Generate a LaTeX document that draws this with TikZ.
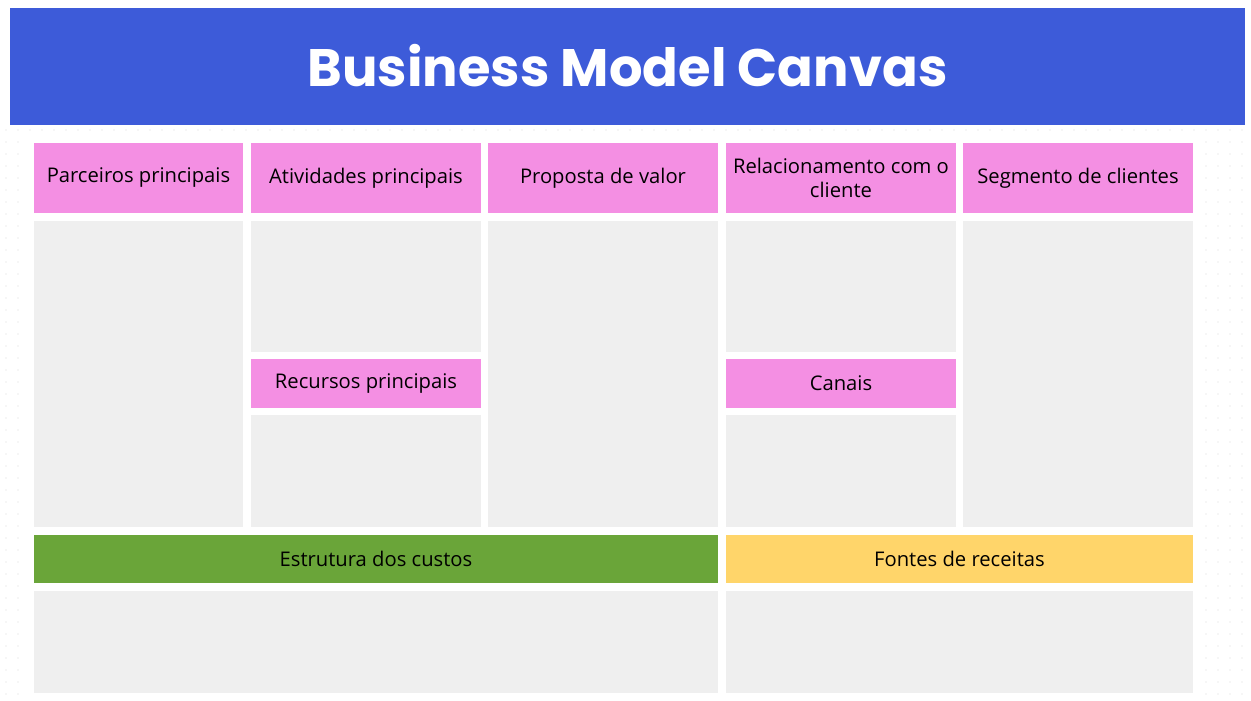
\documentclass[tikz,border=0pt]{standalone}
\usepackage{fontspec}
\setmainfont{Open Sans}
\newfontfamily\titlefont{Poppins Bold}
\usetikzlibrary{positioning}
\definecolor{bmcblue}{HTML}{3D5BD9}
\definecolor{bmcpink}{HTML}{F48FE3}
\definecolor{bmcgrey}{HTML}{EFEFEF}
\definecolor{bmcgreen}{HTML}{6AA539}
\definecolor{bmcyellow}{HTML}{FFD56A}
\definecolor{bmcdot}{HTML}{DCDCDC}
\tikzset{
  head/.style={fill=bmcpink, inner sep=0pt, font=\fontsize{11.5}{14}\selectfont, align=center},
  body/.style={fill=bmcgrey},
}
\begin{document}
\begin{tikzpicture}[x=0.02cm, y=-0.02cm]
    \useasboundingbox (0,0) rectangle (1251,700);
    \fill[white] (0,0) rectangle (1251,700);
    % dotted board
    \foreach \i in {0,...,104}
      \foreach \j in {0,...,48}
        \fill[bmcdot] (6+12*\i, 130+12*\j) circle (0.6);
    \fill[white] (28,136) rectangle (1200,700);

    % title bar
    \fill[bmcblue] (10,8) rectangle (1245,125);
    \node[white, font=\titlefont\fontsize{30}{36}\selectfont] (title) at (627.5,66) {Business Model Canvas};

    % grey bodies
    \fill[body] (34,221) rectangle (243,527);
    \fill[body] (251,221) rectangle (481,352);
    \fill[body] (251,415) rectangle (481,527);
    \fill[body] (488,221) rectangle (718,527);
    \fill[body] (726,221) rectangle (956,352);
    \fill[body] (726,415) rectangle (956,527);
    \fill[body] (963,221) rectangle (1193,527);
    \fill[body] (34,591) rectangle (718,693);
    \fill[body] (726,591) rectangle (1193,693);

    % headers
    \node[head, minimum width=209*0.02cm, minimum height=70*0.02cm] (partners) at (138.5,178) {Parceiros principais};
    \node[head, minimum width=230*0.02cm, minimum height=70*0.02cm] (activities) at (366,178) {Atividades principais};
    \node[head, minimum width=230*0.02cm, minimum height=70*0.02cm] (value) at (603,178) {Proposta de valor};
    \node[head, minimum width=230*0.02cm, minimum height=70*0.02cm] (relation) at (841,178) {Relacionamento com o\\cliente};
    \node[head, minimum width=230*0.02cm, minimum height=70*0.02cm] (segments) at (1078,178) {Segmento de clientes};
    \node[head, minimum width=230*0.02cm, minimum height=49*0.02cm] (resources) at (366,383.5) {Recursos principais};
    \node[head, minimum width=230*0.02cm, minimum height=49*0.02cm] (channels) at (841,383.5) {Canais};
    \node[head, fill=bmcgreen, minimum width=684*0.02cm, minimum height=48*0.02cm] (costs) at (376,559) {Estrutura dos custos};
    \node[head, fill=bmcyellow, minimum width=467*0.02cm, minimum height=48*0.02cm] (revenue) at (959.5,559) {Fontes de receitas};
\end{tikzpicture}
\end{document}
